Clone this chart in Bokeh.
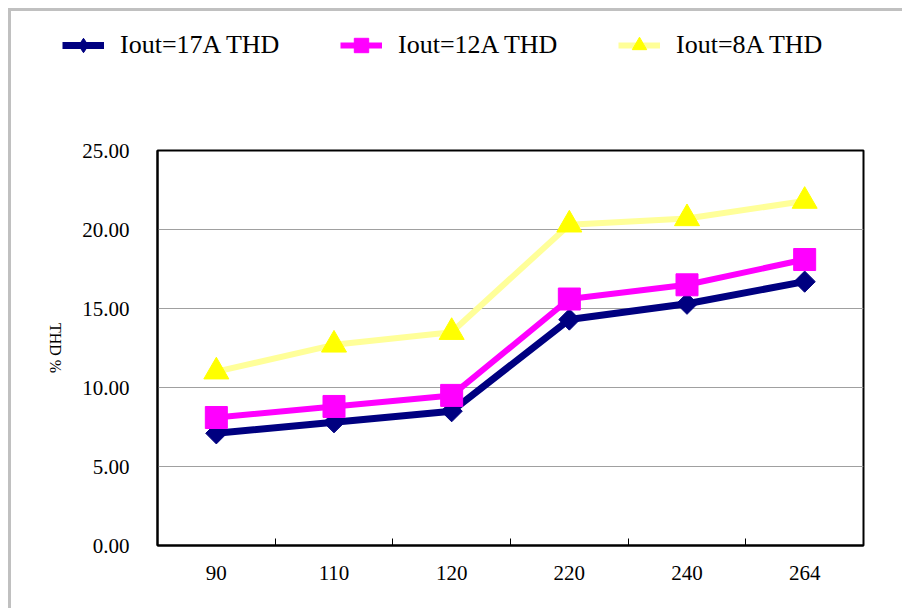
import numpy as np
from bokeh.plotting import figure
from bokeh.models import (FixedTicker, PrintfTickFormatter, Legend,
                          LegendItem, Range1d, Label)
from bokeh.embed import file_html
from bokeh.resources import INLINE

# ---- data ----
categories = ["90", "110", "120", "220", "240", "264"]
thd_17a = [7.1, 7.8, 8.5, 14.3, 15.3, 16.7]
thd_12a = [8.1, 8.8, 9.5, 15.6, 16.5, 18.1]
thd_8a = [11.0, 12.7, 13.5, 20.3, 20.7, 21.8]
series_labels = ["Iout=17A THD", "Iout=12A THD", "Iout=8A THD"]
y_ticks = [0, 5, 10, 15, 20, 25]
y_label = "THD %"

FONT = "Liberation Serif"
n = len(categories)
xs = [i + 0.5 for i in range(n)]
y_min, y_max = y_ticks[0], y_ticks[-1]
all_series = [thd_17a, thd_12a, thd_8a]

W, H = 894, 600          # canvas size
ML, MT, FW, FH = 146, 139, 706, 395   # frame placement inside the canvas

# series styles: line colour, marker colour, marker, angle, size, line width,
# marker used for the legend swatch
sstyle = [
    ("#000080", "#000080", "square", np.pi / 4, 15, 7, "diamond"),
    ("#FF00FF", "#FF00FF", "square", 0, 22, 6, "square"),
    ("#FFFF99", "#FFFF00", "triangle", 0, 25, 6, "triangle"),
]

# ---------------- main chart ----------------
p = figure(width=W, height=H,
           x_range=Range1d(0, n), y_range=Range1d(y_min, y_max),
           output_backend="svg", toolbar_location=None,
           min_border_left=ML, min_border_right=W - ML - FW,
           min_border_top=MT, min_border_bottom=H - MT - FH,
           background_fill_color="white", border_fill_color="white",
           styles={"margin-left": "8px", "margin-top": "8px",
                   "border-left": "3px solid #c0c0c0",
                   "border-top": "3px solid #c0c0c0"})

p.outline_line_color = "black"
p.outline_line_width = 2

p.xaxis.ticker = FixedTicker(ticks=xs, minor_ticks=list(range(1, n)))
p.xaxis.major_label_overrides = {x: c for x, c in zip(xs, categories)}
p.xaxis.major_tick_in = 0
p.xaxis.major_tick_out = 0
p.xaxis.minor_tick_in = 7
p.xaxis.minor_tick_out = 0
p.xaxis.minor_tick_line_color = "black"
p.xaxis.major_label_standoff = 20

p.yaxis.ticker = FixedTicker(ticks=y_ticks)
p.yaxis.formatter = PrintfTickFormatter(format="%.2f")
p.yaxis.major_tick_in = 0
p.yaxis.major_tick_out = 0
p.yaxis.minor_tick_line_color = None
p.yaxis.major_label_standoff = 28

for ax in (p.xaxis, p.yaxis):
    ax.axis_line_color = "black"
    ax.axis_line_width = 2
    ax.major_label_text_font = FONT
    ax.major_label_text_font_size = "21px"
    ax.major_label_text_color = "black"

p.xgrid.grid_line_color = None
p.ygrid.ticker = FixedTicker(ticks=y_ticks)
p.ygrid.grid_line_color = "#a0a0a0"
p.ygrid.grid_line_width = 1

for vals, (lc, mc, mk, ang, sz, lw, _) in zip(all_series, sstyle):
    p.line(xs, vals, line_color=lc, line_width=lw)
    p.scatter(xs, vals, marker=mk, angle=ang, size=sz,
              fill_color=mc, line_color=mc)

# ------------- transparent overlay: legend + y-axis title -------------
# pixel coordinates, y measured downward from the top of the canvas
ov = figure(width=W, height=H, x_range=Range1d(0, W), y_range=Range1d(H, 0),
            output_backend="svg", toolbar_location=None,
            x_axis_type=None, y_axis_type=None,
            min_border=0, outline_line_color=None,
            background_fill_alpha=0, border_fill_alpha=0,
            styles={"position": "absolute", "left": "11px", "top": "11px"})
ov.xgrid.grid_line_color = None
ov.ygrid.grid_line_color = None

items = []
for lab, vals, (lc, mc, mk, ang, sz, lw, lmk) in zip(series_labels, all_series, sstyle):
    r_line = ov.line(xs, vals, line_color=lc, line_width=lw, visible=False)
    r_mark = ov.scatter(xs, vals, marker=lmk, size=sz,
                        fill_color=mc, line_color=mc, visible=False)
    items.append(LegendItem(label=lab, renderers=[r_line, r_mark]))

LEG_LEFT, LEG_BOTTOM = 51, 52      # legend box, canvas pixels from top-left
legend = Legend(items=items, orientation="horizontal",
                location=(LEG_LEFT, H - LEG_BOTTOM),
                glyph_width=42, glyph_height=36,
                label_standoff=16, label_width=163, spacing=57,
                padding=0, margin=0,
                label_text_font=FONT, label_text_font_size="26px",
                label_text_color="black",
                background_fill_alpha=0, border_line_color=None)
ov.add_layout(legend)

ov.add_layout(Label(x=ML - 102, y=MT + FH / 2, text=y_label,
                    angle=-np.pi / 2, text_align="center",
                    text_baseline="middle", text_font=FONT,
                    text_font_size="16px", text_color="black"))

open("out.html", "w").write(file_html([p, ov], INLINE))
